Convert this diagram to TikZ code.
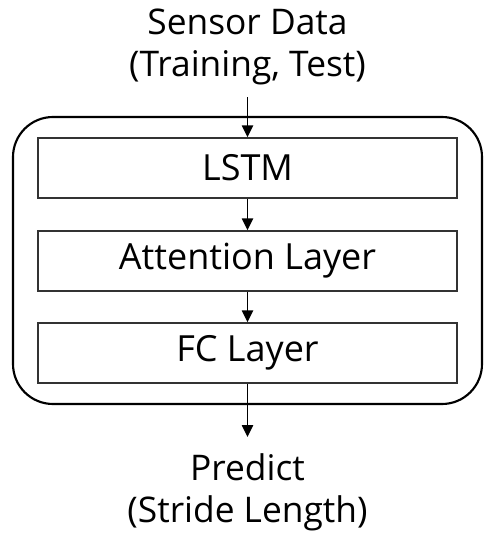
\documentclass[tikz,border=0pt]{standalone}
\usepackage{fontspec}
\setmainfont{Open Sans}
\usetikzlibrary{arrows.meta,positioning}

\tikzset{
  layer/.style={draw=black!80, line width=1.1pt, minimum width=314pt, minimum height=45pt, inner sep=0pt, font=\fontsize{27}{32}\selectfont},
  io/.style={align=center, inner xsep=0pt, inner ysep=9pt, font=\fontsize{26.5}{31.5}\selectfont},
  arr/.style={line width=1.1pt, -{Triangle[length=9pt,width=8.5pt]}},
}

\begin{document}
\begin{tikzpicture}[x=0.75pt,y=-0.75pt]
\useasboundingbox (0,0) rectangle (484,535);

%Network model
\draw[line width=1.6pt, rounded corners=30pt] (13,117) rectangle (482,404);

%Layers
\node[layer] (lstm) at (247.5,168) {LSTM};
\node[layer] (attn) at (247.5,261) {Attention Layer};
\node[layer] (fc) at (247.5,353) {FC Layer};

%Input and output
\node[io, anchor=south] (sensor) at (247.5,97) {Sensor Data\\(Training, Test)};
\node[io, anchor=north, inner ysep=12.5pt] (predict) at (247.5,437) {Predict\\(Stride Length)};

%Arrows
\draw[arr] (sensor) -- (lstm);
\draw[arr] (lstm) -- (attn);
\draw[arr] (attn) -- (fc);
\draw[arr] (fc) -- (predict);
\end{tikzpicture}
\end{document}
